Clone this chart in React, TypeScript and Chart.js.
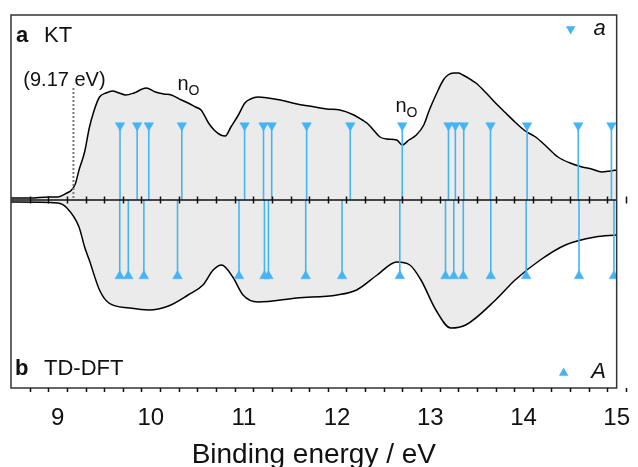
import React, { useEffect, useRef } from 'react';
import { Chart, registerables } from 'chart.js';

Chart.register(...registerables);

const X_MIN = 8.5;
const X_MAX = 15;
const Y_MIN = -1.88;
const Y_MAX = 1.85;
const X_TICKS = [9, 10, 11, 12, 13, 14, 15];
const MINOR_STEP = 0.2;
const ONSET_E = 9.17;
const ONSET_TOP = 1.12;
const ONSET_LABEL = '(9.17 eV)';
const AXIS_TITLE = 'Binding energy / eV';

// KT (top, panel a) stick energies
const KT_E = [9.67, 9.854, 9.979, 10.333, 11.007, 11.21, 11.298, 11.673, 12.141, 12.699, 13.195, 13.269, 13.359, 13.646, 14.039, 14.588, 14.944];
// TD-DFT (bottom, panel b) stick energies
const TD_E = [9.667, 9.759, 9.926, 10.287, 10.947, 11.22, 11.263, 11.663, 12.053, 12.673, 13.163, 13.252, 13.354, 13.649, 14.029, 14.596, 14.971];
const KT_H = 0.745;
const TD_H = -0.76;

// Photoelectron spectrum (top trace)
const TOP_E = [8.5, 8.7, 8.9, 9.0, 9.1, 9.15, 9.19, 9.23, 9.29, 9.34, 9.39, 9.45, 9.52, 9.59, 9.66, 9.73, 9.82, 9.95, 10.05, 10.14, 10.22, 10.33, 10.4, 10.48, 10.54, 10.62, 10.68, 10.75, 10.8, 10.86, 10.94, 11.01, 11.07, 11.15, 11.26, 11.39, 11.57, 11.76, 11.89, 12.03, 12.18, 12.27, 12.32, 12.39, 12.46, 12.53, 12.64, 12.7, 12.77, 12.85, 12.93, 12.99, 13.06, 13.14, 13.19, 13.25, 13.3, 13.35, 13.44, 13.49, 13.6, 13.7, 13.81, 13.92, 14.02, 14.13, 14.23, 14.37, 14.5, 14.63, 14.73, 14.84, 14.93, 15.0];
const TOP_I = [0.02, 0.02, 0.03, 0.03, 0.07, 0.1, 0.16, 0.3, 0.48, 0.72, 0.89, 1.03, 1.07, 1.09, 1.07, 1.05, 1.07, 1.12, 1.08, 1.06, 1.05, 1.0, 0.97, 0.93, 0.9, 0.77, 0.7, 0.65, 0.64, 0.73, 0.85, 0.97, 1.01, 1.03, 1.02, 1.0, 0.96, 0.93, 0.91, 0.9, 0.85, 0.8, 0.77, 0.7, 0.63, 0.61, 0.6, 0.55, 0.6, 0.65, 0.75, 0.9, 1.05, 1.2, 1.25, 1.27, 1.27, 1.25, 1.2, 1.17, 1.07, 0.97, 0.87, 0.77, 0.69, 0.63, 0.55, 0.43, 0.37, 0.33, 0.31, 0.28, 0.29, 0.3];

// Mirrored spectrum (bottom trace), magnitudes
const BOT_E = [8.5, 9.0, 9.1, 9.23, 9.29, 9.34, 9.45, 9.55, 9.77, 9.98, 10.19, 10.4, 10.56, 10.67, 10.76, 10.88, 10.99, 11.15, 11.57, 12.0, 12.21, 12.43, 12.64, 12.78, 12.9, 13.06, 13.22, 13.38, 13.7, 13.91, 14.18, 14.45, 14.77, 15.0];
const BOT_I = [0.02, 0.03, 0.08, 0.27, 0.47, 0.6, 0.9, 1.03, 1.08, 1.1, 1.06, 0.95, 0.85, 0.7, 0.65, 0.77, 0.95, 1.02, 0.98, 0.95, 0.9, 0.75, 0.62, 0.65, 0.8, 1.1, 1.28, 1.25, 1.0, 0.8, 0.6, 0.45, 0.37, 0.35];

const NO_LABELS = [
  { e: 10.35, v: 1.1 },
  { e: 12.69, v: 0.88 },
];

const STICK_COLOR = '#45b4f5';
const FILL_COLOR = '#ebebeb';
const FONT = "'Liberation Sans', Arial, sans-serif";

function sticks(energies: number[], h: number) {
  const pts: { x: number; y: number | null }[] = [];
  energies.forEach((e) => {
    pts.push({ x: e, y: 0 }, { x: e, y: h }, { x: e, y: null });
  });
  return pts;
}

const decor = {
  id: 'decor',
  afterDatasetsDraw(chart: any) {
    const { ctx, chartArea: ca, scales } = chart;
    const x = scales.x;
    const y = scales.y;
    ctx.save();
    // onset dotted line
    const xo = x.getPixelForValue(ONSET_E);
    ctx.strokeStyle = '#7a7a7a';
    ctx.lineWidth = 2;
    ctx.setLineDash([2, 2]);
    ctx.beginPath();
    ctx.moveTo(xo, y.getPixelForValue(ONSET_TOP));
    ctx.lineTo(xo, y.getPixelForValue(0));
    ctx.stroke();
    ctx.setLineDash([]);

    // middle axis
    const y0 = y.getPixelForValue(0);
    ctx.strokeStyle = '#111';
    ctx.lineWidth = 1.5;
    ctx.beginPath();
    ctx.moveTo(ca.left, y0);
    ctx.lineTo(ca.right, y0);
    ctx.stroke();
    const n = Math.round((X_MAX - X_MIN) / MINOR_STEP);
    for (let i = 1; i <= n; i++) {
      const v = X_MIN + i * MINOR_STEP;
      const major = Math.abs(v - Math.round(v)) < 1e-6;
      const px = Math.round(x.getPixelForValue(v)) + 0.5;
      const len = major ? 7 : 3.5;
      ctx.lineWidth = major ? 2 : 1.5;
      ctx.beginPath();
      ctx.moveTo(px, y0 - len);
      ctx.lineTo(px, y0 + len);
      ctx.stroke();
    }
    ctx.restore();
  },
  afterDraw(chart: any) {
    const { ctx, chartArea: ca, scales } = chart;
    const x = scales.x;
    const y = scales.y;
    ctx.save();
    // frame
    ctx.strokeStyle = '#333';
    ctx.lineWidth = 1.5;
    ctx.strokeRect(ca.left, ca.top, ca.right - ca.left, ca.bottom - ca.top);
    // bottom axis ticks
    ctx.strokeStyle = '#111';
    const n = Math.round((X_MAX - X_MIN) / MINOR_STEP);
    for (let i = 1; i <= n; i++) {
      const v = X_MIN + i * MINOR_STEP;
      const major = Math.abs(v - Math.round(v)) < 1e-6;
      const px = Math.round(x.getPixelForValue(v)) + 0.5;
      ctx.lineWidth = major ? 2 : 1.5;
      ctx.beginPath();
      ctx.moveTo(px, ca.bottom);
      ctx.lineTo(px, ca.bottom + (major ? 7 : 4));
      ctx.stroke();
    }

    ctx.fillStyle = '#111';
    ctx.textBaseline = 'alphabetic';
    // panel labels
    ctx.textAlign = 'left';
    ctx.font = `bold 22px ${FONT}`;
    ctx.fillText('a', ca.left + 5, ca.top + 27);
    ctx.font = `22px ${FONT}`;
    ctx.fillText('KT', ca.left + 33, ca.top + 27);
    ctx.font = `bold 22px ${FONT}`;
    ctx.fillText('b', ca.left + 4, ca.bottom - 13);
    ctx.font = `22px ${FONT}`;
    ctx.fillText('TD-DFT', ca.left + 33, ca.bottom - 13);

    // onset label
    ctx.font = `20px ${FONT}`;
    ctx.textAlign = 'center';
    ctx.fillText(ONSET_LABEL, x.getPixelForValue(ONSET_E) - 9, y.getPixelForValue(ONSET_TOP) - 2);

    // n_O labels
    NO_LABELS.forEach((l) => {
      const px = x.getPixelForValue(l.e);
      const py = y.getPixelForValue(l.v);
      ctx.textAlign = 'left';
      ctx.font = `20px ${FONT}`;
      ctx.fillText('n', px - 6, py);
      ctx.font = `14px ${FONT}`;
      ctx.fillText('O', px + 5, py + 5);
    });

    // legend
    const drawTri = (cx: number, cy: number, down: boolean) => {
      const r = 5.5;
      ctx.beginPath();
      for (let k = 0; k < 3; k++) {
        const a = (down ? Math.PI : 0) + (k * 2 * Math.PI) / 3;
        const xx = cx + Math.sin(a) * r;
        const yy = cy - Math.cos(a) * r;
        if (k === 0) ctx.moveTo(xx, yy);
        else ctx.lineTo(xx, yy);
      }
      ctx.closePath();
      ctx.fillStyle = STICK_COLOR;
      ctx.fill();
    };
    drawTri(ca.right - 46, ca.top + 14, true);
    drawTri(ca.right - 53, ca.bottom - 15, false);
    ctx.fillStyle = '#111';
    ctx.font = `italic 22px ${FONT}`;
    ctx.textAlign = 'center';
    ctx.fillText('a', ca.right - 17, ca.top + 20);
    ctx.fillText('A', ca.right - 18, ca.bottom - 10);
    ctx.restore();
  },
};

export default function App() {
  const ref = useRef<HTMLCanvasElement | null>(null);
  useEffect(() => {
    document.body.style.margin = '0';
    const canvas = ref.current;
    if (!canvas) return;
    const chart = new Chart(canvas, {
      type: 'line',
      data: {
        datasets: [
          {
            label: 'KT sticks',
            data: sticks(KT_E, KT_H) as any,
            borderColor: STICK_COLOR,
            borderWidth: 1.6,
            spanGaps: false,
            fill: false,
            pointStyle: 'triangle',
            rotation: 180,
            pointRadius: (c: any) => (c.dataIndex % 3 === 1 ? 5.5 : 0),
            pointBackgroundColor: STICK_COLOR,
            pointBorderColor: STICK_COLOR,
            pointBorderWidth: 0.5,
            order: 0,
          },
          {
            label: 'TD-DFT sticks',
            data: sticks(TD_E, TD_H) as any,
            borderColor: STICK_COLOR,
            borderWidth: 1.6,
            spanGaps: false,
            fill: false,
            pointStyle: 'triangle',
            rotation: 0,
            pointRadius: (c: any) => (c.dataIndex % 3 === 1 ? 5.5 : 0),
            pointBackgroundColor: STICK_COLOR,
            pointBorderColor: STICK_COLOR,
            pointBorderWidth: 0.5,
            order: 0,
          },
          {
            label: 'spectrum',
            data: TOP_E.map((e, i) => ({ x: e, y: TOP_I[i] })),
            borderColor: '#000',
            borderWidth: 1.5,
            backgroundColor: FILL_COLOR,
            fill: 'origin',
            pointRadius: 0,
            cubicInterpolationMode: 'monotone',
            order: 1,
          },
          {
            label: 'spectrum mirrored',
            data: BOT_E.map((e, i) => ({ x: e, y: -BOT_I[i] })),
            borderColor: '#000',
            borderWidth: 1.5,
            backgroundColor: FILL_COLOR,
            fill: 'origin',
            pointRadius: 0,
            cubicInterpolationMode: 'monotone',
            order: 1,
          },
        ],
      },
      options: {
        animation: false,
        responsive: false,
        devicePixelRatio: 1,
        layout: { padding: { left: 11, right: 16, top: 15, bottom: 0 } },
        plugins: { legend: { display: false }, tooltip: { enabled: false } },
        scales: {
          x: {
            type: 'linear',
            min: X_MIN,
            max: X_MAX,
            grid: { display: false },
            border: { display: false },
            afterBuildTicks: (s: any) => {
              s.ticks = X_TICKS.map((v) => ({ value: v }));
            },
            afterFit: (s: any) => {
              s.height = 79;
            },
            ticks: {
              color: '#111',
              padding: 8,
              maxRotation: 0,
              font: { family: FONT, size: 24 },
              callback: (v: any) => String(v),
            },
            title: {
              display: true,
              text: AXIS_TITLE,
              color: '#111',
              font: { family: FONT, size: 28, lineHeight: 1 },
              padding: { top: 0, bottom: -2 },
            },
          },
          y: {
            type: 'linear',
            min: Y_MIN,
            max: Y_MAX,
            display: false,
          },
        },
      },
      plugins: [decor],
    } as any);
    return () => chart.destroy();
  }, []);
  return (
    <div style={{ width: 638, height: 467 }}>
      <canvas ref={ref} width={638} height={467} style={{ width: 638, height: 467, display: 'block' }} />
    </div>
  );
}
